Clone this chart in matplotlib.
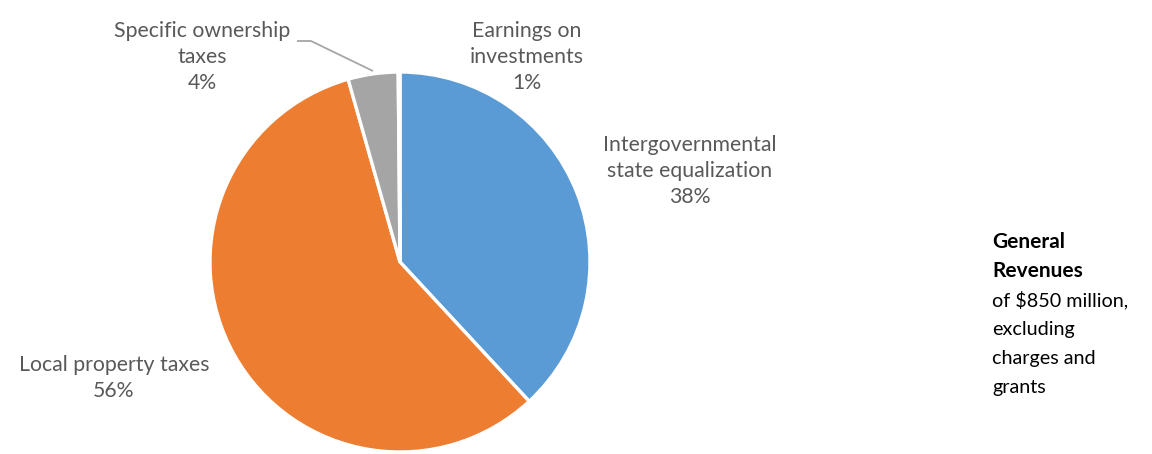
import matplotlib
matplotlib.use("Agg")
import matplotlib.pyplot as plt

plt.rcParams['font.family'] = ['Lato', 'DejaVu Sans']

categories = ["Intergovernmental\nstate equalization", "Local property taxes",
              "Specific ownership\ntaxes", "Earnings on\ninvestments"]
values = [38.1, 57.5, 4.25, 0.15]
pct_labels = ["38%", "56%", "4%", "1%"]
colors = ["#5B9BD5", "#ED7D31", "#A5A5A5", "#FFC000"]

note_lines = ["General", "Revenues", "of $850 million,", "excluding", "charges and", "grants"]
note_bold = [True, True, False, False, False, False]

W, H = 1152, 454
fig = plt.figure(figsize=(W / 100, H / 100), dpi=100)
cx, cy, r = 400, 262, 190
ax = fig.add_axes([(cx - r) / W, (H - cy - r) / H, 2 * r / W, 2 * r / H])

ax.pie(values, colors=colors, startangle=90, counterclock=False, radius=1,
       wedgeprops=dict(edgecolor="white", linewidth=2.4), center=(0, 0))
ax.set_xlim(-1, 1)
ax.set_ylim(-1, 1)
ax.set_aspect("auto")
ax.axis("off")

label_pos = [(1.526, 0.479), (-1.505, -0.611), (-1.042, 1.079), (0.668, 1.079)]
for cat, pct, (lx, ly) in zip(categories, pct_labels, label_pos):
    ax.text(lx, ly, f"{cat}\n{pct}", ha="center", va="center", fontsize=15.3,
            color="#595959", linespacing=1.38, clip_on=False)

# leader line for Specific ownership taxes
def px(x, y):
    return ((x - cx) / r, (cy - y) / r)
p1, p2, p3 = px(297, 41), px(311, 41), px(373, 71)
ax.plot([p1[0], p2[0], p3[0]], [p1[1], p2[1], p3[1]], color="#A6A6A6",
        lw=1.3, clip_on=False, solid_capstyle="butt")

y0, dy = 240, 29.2
for i, (line, bold) in enumerate(zip(note_lines, note_bold)):
    fig.text(992 / W, 1 - (y0 + i * dy) / H, line, ha="left", va="center_baseline",
             fontsize=15.0 if bold else 14.2,
             fontweight="bold" if bold else "normal", color="black")

fig.savefig("out.png", dpi=100, facecolor="white")
